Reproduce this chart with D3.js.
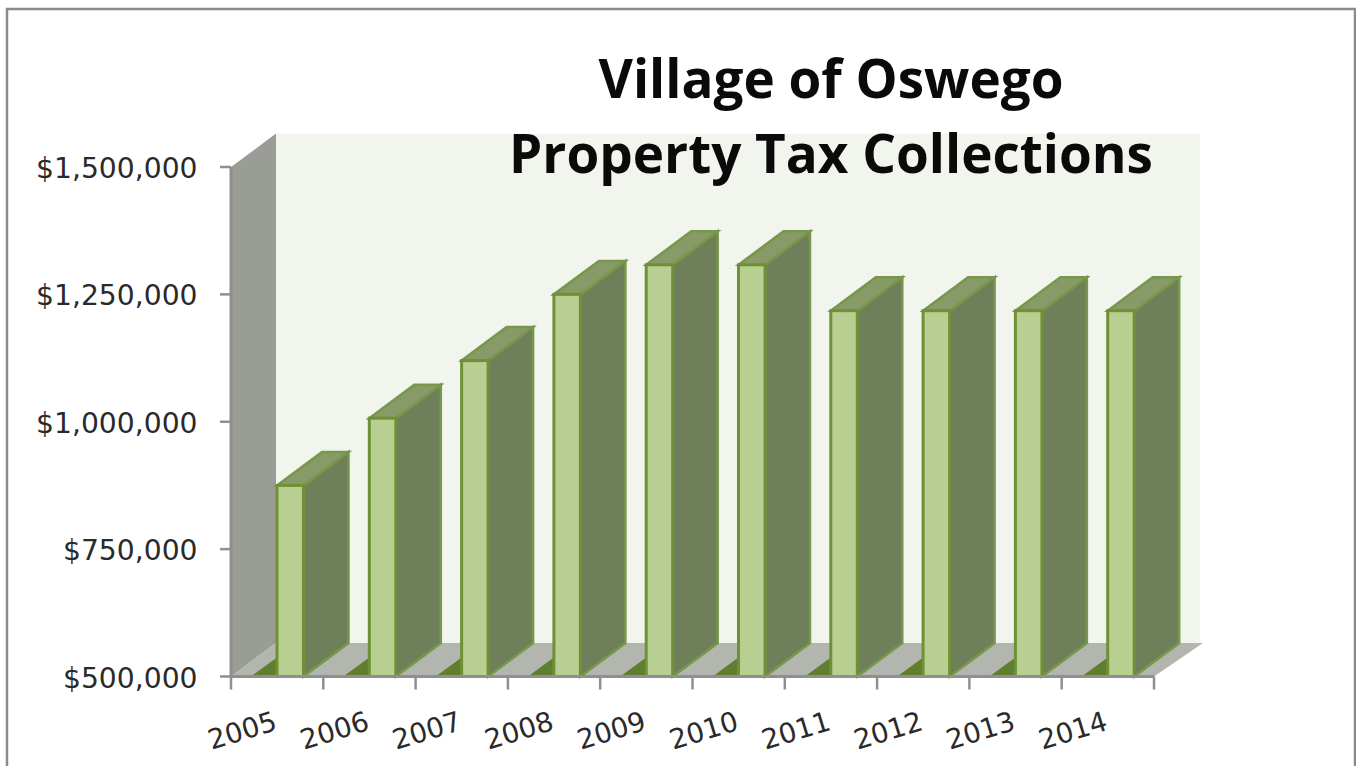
<!DOCTYPE html>
<html>
<head>
<meta charset="utf-8">
<script src="https://cdn.jsdelivr.net/npm/d3@7/dist/d3.min.js"></script>
<style>
  html, body { margin: 0; padding: 0; background: #fff; overflow: hidden; }
  svg { display: block; }
</style>
</head>
<body>
<svg id="chart" width="1356" height="766"></svg>
<script>
// Annual property tax collections, in dollars
const years = ["2005","2006","2007","2008","2009","2010","2011","2012","2013","2014"];
const collections = [875000,1007000,1120000,1250000,1308000,1308000,1218000,1218000,1218000,1218000];
const yTicks = [500000,750000,1000000,1250000,1500000];
const titleLines = ["Village of Oswego","Property Tax Collections"];

const svg = d3.select("#chart");
const plotLeft = 231, plotRight = 1154, plotBottom = 676.5, plotTop = 167;
const depthX = 45, depthY = -33.5;
const barInset = 46, barWidth = 26.5;

const x = d3.scaleBand().domain(years).range([plotLeft, plotRight]);
const y = d3.scaleLinear().domain([500000, 1500000]).range([plotBottom, plotTop]);
const money = d3.format("$,");
const poly = pts => pts.map(p => p.join(",")).join(" ");

// Outer frame of the chart area
svg.append("rect").attr("x", 7).attr("y", 9).attr("width", 1348).attr("height", 790)
  .attr("fill", "#fff").attr("stroke", "#8a8a8a").attr("stroke-width", 2.5);

// Back wall, side wall and floor of the 3-D box
svg.append("rect")
  .attr("x", plotLeft + depthX).attr("y", plotTop + depthY)
  .attr("width", plotRight - plotLeft + 1).attr("height", plotBottom - plotTop)
  .attr("fill", "#f1f5ee");
svg.append("polygon")
  .attr("points", poly([[plotLeft, plotTop], [plotLeft + depthX, plotTop + depthY], [plotLeft + depthX, plotBottom + depthY], [plotLeft, plotBottom]]))
  .attr("fill", "#9a9c96");
svg.append("line").attr("x1", plotLeft).attr("x2", plotLeft).attr("y1", plotTop).attr("y2", plotBottom)
  .attr("stroke", "#8f8f8f").attr("stroke-width", 3);
svg.append("polygon")
  .attr("points", poly([[plotLeft, plotBottom], [plotLeft + depthX, plotBottom + depthY], [plotRight + depthX + 4, plotBottom + depthY], [plotRight, plotBottom]]))
  .attr("fill", "#b3b5af");

// Bars: shadowed foot, side, top, then the front face
const bars = svg.append("g").selectAll("g")
  .data(years.map((year, i) => ({ year, value: collections[i] })))
  .join("g");
const fx = d => x(d.year) + barInset;

bars.append("polygon")
  .attr("points", d => poly([[fx(d) - 26, plotBottom], [fx(d), plotBottom - 19], [fx(d), plotBottom]]))
  .attr("fill", "#607f2e");
bars.append("polygon")
  .attr("points", d => poly([
    [fx(d) + barWidth, y(d.value)],
    [fx(d) + barWidth + depthX, y(d.value) + depthY],
    [fx(d) + barWidth + depthX, plotBottom + depthY],
    [fx(d) + barWidth, plotBottom]]))
  .attr("fill", "#6f7f5a").attr("stroke", "#77974a").attr("stroke-width", 2.5);
bars.append("polygon")
  .attr("points", d => poly([
    [fx(d), y(d.value)],
    [fx(d) + depthX, y(d.value) + depthY],
    [fx(d) + barWidth + depthX, y(d.value) + depthY],
    [fx(d) + barWidth, y(d.value)]]))
  .attr("fill", "#879a68").attr("stroke", "#77974a").attr("stroke-width", 2.5);
bars.append("rect")
  .attr("x", fx).attr("y", d => y(d.value))
  .attr("width", barWidth).attr("height", d => plotBottom - y(d.value))
  .attr("fill", "#b9cf91").attr("stroke", "#6f9136").attr("stroke-width", 3);

// Value axis
const yAxis = svg.append("g");
yAxis.selectAll("line").data(yTicks).join("line")
  .attr("x1", plotLeft - 11).attr("x2", plotLeft)
  .attr("y1", d => y(d)).attr("y2", d => y(d))
  .attr("stroke", "#8f8f8f").attr("stroke-width", 2.5);
yAxis.selectAll("text").data(yTicks).join("text")
  .attr("x", 197.5).attr("y", d => y(d) + 11)
  .attr("text-anchor", "end")
  .attr("font-family", "DejaVu Sans").attr("font-size", 28.2)
  .attr("fill", "#2a2a2a")
  .text(d => money(d));

// Category axis with ticks on the band edges
svg.append("line").attr("x1", plotLeft).attr("x2", plotRight).attr("y1", plotBottom).attr("y2", plotBottom)
  .attr("stroke", "#8f8f8f").attr("stroke-width", 3);
const edges = years.map(d => x(d)).concat(plotRight);
svg.append("g").selectAll("line").data(edges).join("line")
  .attr("x1", d => d).attr("x2", d => d).attr("y1", plotBottom).attr("y2", plotBottom + 13)
  .attr("stroke", "#8f8f8f").attr("stroke-width", 2.5);
svg.append("g").selectAll("text").data(years).join("text")
  .attr("transform", d => `translate(${x(d) + 11},730) rotate(-17)`)
  .attr("text-anchor", "middle").attr("dominant-baseline", "central")
  .attr("font-family", "DejaVu Sans").attr("font-size", 27.5)
  .attr("fill", "#2a2a2a")
  .text(d => d);

// Two-line title sits over the upper part of the back wall
svg.append("g").selectAll("text").data(titleLines).join("text")
  .attr("x", 831).attr("y", (d, i) => 98 + i * 75)
  .attr("text-anchor", "middle")
  .attr("font-family", "Open Sans").attr("font-weight", 700).attr("font-size", 53)
  .attr("fill", "#0a0a0a")
  .text(d => d);
</script>
</body>
</html>
